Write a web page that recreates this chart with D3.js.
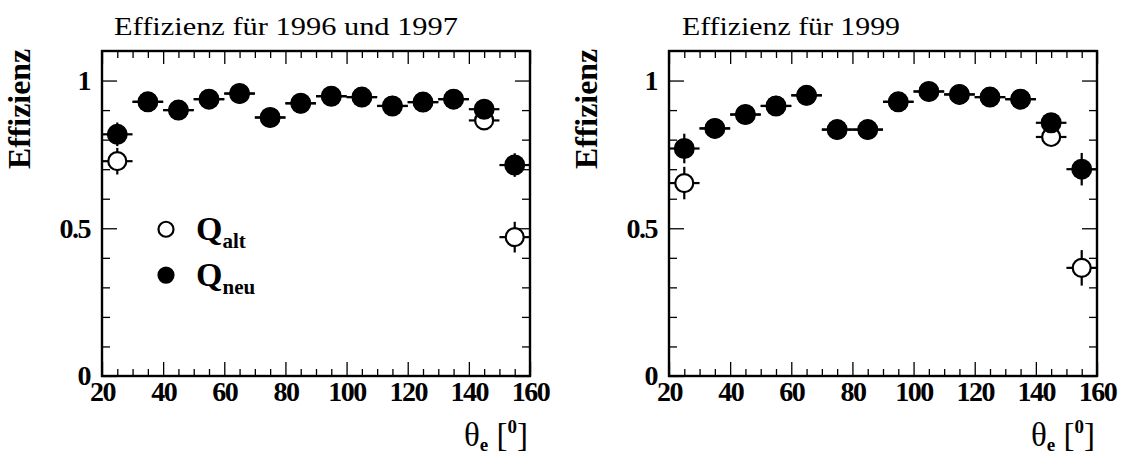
<!DOCTYPE html>
<html>
<head>
<meta charset="utf-8">
<script src="https://cdn.jsdelivr.net/npm/d3@7"></script>
<style>
  body { margin: 0; background: #fff; }
  svg { display: block; }
  text { font-family: "Liberation Serif", "Times New Roman", serif; fill: #000; }
  .tick text { font-weight: bold; font-size: 28px; letter-spacing: -1.5px; }
</style>
</head>
<body>
<svg id="chart" width="1123" height="456"></svg>
<script>
// theta bins (bin centres, width 10 degrees)
var bins = [25, 35, 45, 55, 65, 75, 85, 95, 105, 115, 125, 135, 145, 155];
var binHalfWidth = 5;

// 1996 + 1997
var neu9697 = [0.818, 0.928, 0.900, 0.937, 0.956, 0.875, 0.923, 0.947, 0.944, 0.914, 0.927, 0.937, 0.903, 0.714];
var neu9697Err = [0.040, 0.010, 0.010, 0.010, 0.010, 0.010, 0.010, 0.010, 0.010, 0.010, 0.010, 0.010, 0.015, 0.040];
var alt9697 = [0.727, 0.928, 0.900, 0.937, 0.956, 0.875, 0.923, 0.947, 0.944, 0.914, 0.927, 0.937, 0.865, 0.470];
var alt9697Err = [0.045, 0.010, 0.010, 0.010, 0.010, 0.010, 0.010, 0.010, 0.010, 0.010, 0.010, 0.010, 0.020, 0.052];

// 1999
var neu99 = [0.770, 0.838, 0.885, 0.914, 0.950, 0.834, 0.834, 0.928, 0.963, 0.953, 0.944, 0.937, 0.857, 0.700];
var neu99Err = [0.050, 0.010, 0.010, 0.010, 0.010, 0.010, 0.010, 0.010, 0.010, 0.010, 0.010, 0.010, 0.020, 0.055];
var alt99 = [0.653, 0.838, 0.885, 0.914, 0.950, 0.834, 0.834, 0.928, 0.963, 0.953, 0.944, 0.937, 0.809, 0.366];
var alt99Err = [0.055, 0.010, 0.010, 0.010, 0.010, 0.010, 0.010, 0.010, 0.010, 0.010, 0.010, 0.010, 0.025, 0.060];

var xMajor = [20, 40, 60, 80, 100, 120, 140, 160];
var yMajor = [0, 0.5, 1];
var yTickLabels = ["0", "0.5", "1"];

var svg = d3.select("#chart");

function drawPanel(opts) {
  var w = opts.width, h = opts.height;
  var g = svg.append("g")
    .attr("transform", "translate(" + opts.left + "," + opts.top + ")");

  var x = d3.scaleLinear().domain([20, 160]).range([0, w]);
  var y = d3.scaleLinear().domain([0, 1.1]).range([h, 0]);

  // minor ticks
  var xMinor = d3.range(25, 160, 5).filter(function (v) { return v % 20 !== 0; });
  var yMinor = d3.range(1, 11).map(function (v) { return v / 10; }).filter(function (v) { return v !== 0.5 && v !== 1; });

  g.append("g").attr("transform", "translate(0," + h + ")")
    .call(d3.axisBottom(x).tickValues(xMinor).tickSize(-7).tickFormat(""));
  g.append("g")
    .call(d3.axisTop(x).tickValues(xMinor).tickSize(-7).tickFormat(""));
  g.append("g")
    .call(d3.axisLeft(y).tickValues(yMinor).tickSize(-8).tickFormat(""));
  g.append("g").attr("transform", "translate(" + w + ",0)")
    .call(d3.axisRight(y).tickValues(yMinor).tickSize(-8).tickFormat(""));

  // major ticks + labels
  g.append("g").attr("transform", "translate(0," + h + ")")
    .call(d3.axisBottom(x).tickValues(xMajor).tickSize(-14).tickPadding(5).tickFormat(d3.format("d")));
  g.append("g")
    .call(d3.axisTop(x).tickValues(xMajor).tickSize(-13).tickFormat(""));
  g.append("g")
    .call(d3.axisLeft(y).tickValues(yMajor).tickSize(-15).tickPadding(12)
      .tickFormat(function (d, i) { return yTickLabels[i]; }));
  g.append("g").attr("transform", "translate(" + w + ",0)")
    .call(d3.axisRight(y).tickValues(yMajor).tickSize(-15).tickFormat(""));

  g.selectAll(".domain").remove();
  g.selectAll(".tick line").attr("stroke", "#000").attr("stroke-width", 1.3);
  g.selectAll(".tick text").attr("fill", "#000");

  // frame
  g.append("rect")
    .attr("width", w).attr("height", h)
    .attr("fill", "none").attr("stroke", "#000").attr("stroke-width", 2.4);

  // title
  g.append("text")
    .attr("x", opts.titleX).attr("y", -16)
    .attr("textLength", opts.titleLen).attr("lengthAdjust", "spacingAndGlyphs")
    .style("font-size", "25px")
    .text(opts.title);

  // y axis title
  g.append("text")
    .attr("transform", "translate(-72," + (58) + ") rotate(-90)")
    .attr("text-anchor", "middle")
    .attr("textLength", 120).attr("lengthAdjust", "spacingAndGlyphs")
    .style("font-size", "31px").style("font-weight", "bold")
    .text("Effizienz");

  // x axis title
  var xt = g.append("text")
    .attr("x", w - 2).attr("y", h + 70)
    .attr("text-anchor", "end")
    .style("font-size", "33px");
  xt.append("tspan").text("\u03b8");
  xt.append("tspan").attr("dy", 5).style("font-size", "19px").style("font-weight", "bold").text("e");
  xt.append("tspan").attr("dy", -5).text(" [");
  xt.append("tspan").attr("dy", -13).style("font-size", "19px").style("font-weight", "bold").text("0");
  xt.append("tspan").attr("dy", 13).text("]");

  function series(vals, errs, filled) {
    var pts = bins.map(function (b, i) { return { x: b, v: vals[i], e: errs[i] }; });
    var s = g.append("g");
    s.selectAll(".hbar").data(pts).enter().append("line")
      .attr("x1", function (d) { return x(d.x - binHalfWidth); })
      .attr("x2", function (d) { return x(d.x + binHalfWidth); })
      .attr("y1", function (d) { return y(d.v); })
      .attr("y2", function (d) { return y(d.v); })
      .attr("stroke", "#000").attr("stroke-width", 2.2);
    s.selectAll(".vbar").data(pts).enter().append("line")
      .attr("x1", function (d) { return x(d.x); })
      .attr("x2", function (d) { return x(d.x); })
      .attr("y1", function (d) { return y(d.v - d.e); })
      .attr("y2", function (d) { return y(d.v + d.e); })
      .attr("stroke", "#000").attr("stroke-width", 2.2);
    s.selectAll("circle").data(pts).enter().append("circle")
      .attr("cx", function (d) { return x(d.x); })
      .attr("cy", function (d) { return y(d.v); })
      .attr("r", filled ? 10.5 : 9)
      .attr("fill", filled ? "#000" : "#fff")
      .attr("stroke", "#000").attr("stroke-width", filled ? 0 : 2.2);
  }
  series(opts.alt, opts.altErr, false);
  series(opts.neu, opts.neuErr, true);

  return { g: g, x: x, y: y };
}

var left = drawPanel({
  left: 102, top: 51, width: 428, height: 325,
  title: "Effizienz f\u00fcr 1996 und 1997", titleX: 12, titleLen: 344,
  neu: neu9697, neuErr: neu9697Err, alt: alt9697, altErr: alt9697Err
});

drawPanel({
  left: 669, top: 51, width: 428, height: 325,
  title: "Effizienz f\u00fcr 1999", titleX: 13, titleLen: 218,
  neu: neu99, neuErr: neu99Err, alt: alt99, altErr: alt99Err
});

// legend (left panel)
var legend = [
  { label: "Q", sub: "alt", filled: false, v: 0.5 },
  { label: "Q", sub: "neu", filled: true, v: 0.345 }
];
var lg = left.g.append("g");
legend.forEach(function (d) {
  var cy = left.y(d.v) + 1;
  lg.append("circle")
    .attr("cx", 64).attr("cy", cy).attr("r", 7.5)
    .attr("fill", d.filled ? "#000" : "#fff")
    .attr("stroke", "#000").attr("stroke-width", 2.2);
  var t = lg.append("text")
    .attr("x", 94).attr("y", cy + 11)
    .style("font-size", "34px").style("font-weight", "bold");
  t.append("tspan").text(d.label);
  t.append("tspan").attr("dy", 8).style("font-size", "21px").text(d.sub);
});
</script>
</body>
</html>
